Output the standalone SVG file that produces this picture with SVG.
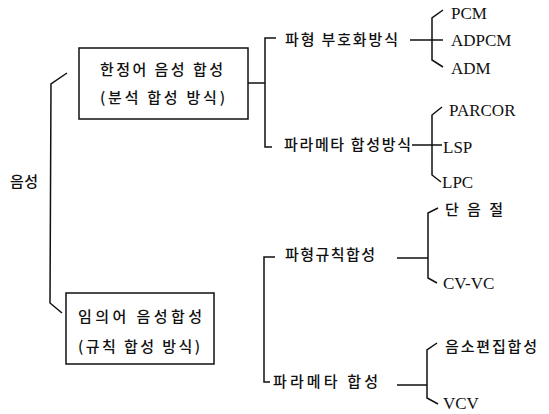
<svg xmlns="http://www.w3.org/2000/svg" width="549" height="414" viewBox="0 0 549 414">
<style>
.ln{fill:none;stroke:#111;stroke-width:1.5;stroke-linejoin:miter}
.box{fill:#fff;stroke:#111;stroke-width:1.5}
.ko{font-family:"Noto Sans CJK KR","Noto Sans",sans-serif;font-size:15px;font-weight:500;fill:#111}
.en{font-family:"Liberation Serif","Times New Roman",serif;font-size:17px;fill:#111}
</style>
<rect width="549" height="414" fill="#fff"/>
<g id="connectors">
<path class="ln" d="M67,73 L51,84 L50,303 L62,313"/>
<path class="ln" d="M248,83 L265,83"/>
<path class="ln" d="M276,38 L265,38 L265,147 L272,147"/>
<path class="ln" d="M275,257 L264,257 L264,382 L270,382"/>
<path class="ln" d="M410,40 L443,40 M443,10 L432,18 L432,60 L443,67"/>
<path class="ln" d="M412,145 L442,145 M442,107 L432,115 L432,175 L441,182"/>
<path class="ln" d="M397,258 L428,258 M438,208 L428,213 L428,278 L437,283"/>
<path class="ln" d="M397,385 L427,385 M437,343 L427,350 L427,398 L438,404"/>
</g>
<g id="root"><text class="ko" x="10" y="187" textLength="28" lengthAdjust="spacing">음성</text></g>
<g id="box1">
<rect class="box" x="79" y="48" width="169" height="71"/>
<text class="ko" x="100" y="75" textLength="123" lengthAdjust="spacing">한정어 음성 합성</text>
<text class="ko" x="100" y="103" textLength="125" lengthAdjust="spacing">(분석 합성 방식)</text>
</g>
<g id="box2">
<rect class="box" x="66" y="293" width="148" height="71"/>
<text class="ko" x="78" y="322" textLength="124" lengthAdjust="spacing">임의어  음성합성</text>
<text class="ko" x="78" y="352" textLength="122" lengthAdjust="spacing">(규칙 합성 방식)</text>
</g>
<g id="n-waveform-coding"><text class="ko" x="285" y="45" textLength="113" lengthAdjust="spacing">파형 부호화방식</text></g>
<g id="n-param-synth"><text class="ko" x="284" y="150" textLength="127" lengthAdjust="spacing">파라메타 합성방식</text></g>
<g id="n-waveform-rule"><text class="ko" x="285" y="260" textLength="90" lengthAdjust="spacing">파형규칙합성</text></g>
<g id="n-param-synth2"><text class="ko" x="273" y="387" textLength="105" lengthAdjust="spacing">파라메타 합성</text></g>
<g id="n-pcm"><text class="en" x="451" y="19">PCM</text></g>
<g id="n-adpcm"><text class="en" x="451" y="46">ADPCM</text></g>
<g id="n-adm"><text class="en" x="451" y="74">ADM</text></g>
<g id="n-parcor"><text class="en" x="449" y="116">PARCOR</text></g>
<g id="n-lsp"><text class="en" x="443" y="153">LSP</text></g>
<g id="n-lpc"><text class="en" x="442" y="188">LPC</text></g>
<g id="n-syllable"><text class="ko" x="445" y="215" textLength="58" lengthAdjust="spacing">단 음 절</text></g>
<g id="n-cvvc"><text class="en" x="443" y="289">CV-VC</text></g>
<g id="n-phoneme"><text class="ko" x="445" y="352" textLength="92" lengthAdjust="spacing">음소편집합성</text></g>
<g id="n-vcv"><text class="en" x="443" y="409">VCV</text></g>
</svg>
